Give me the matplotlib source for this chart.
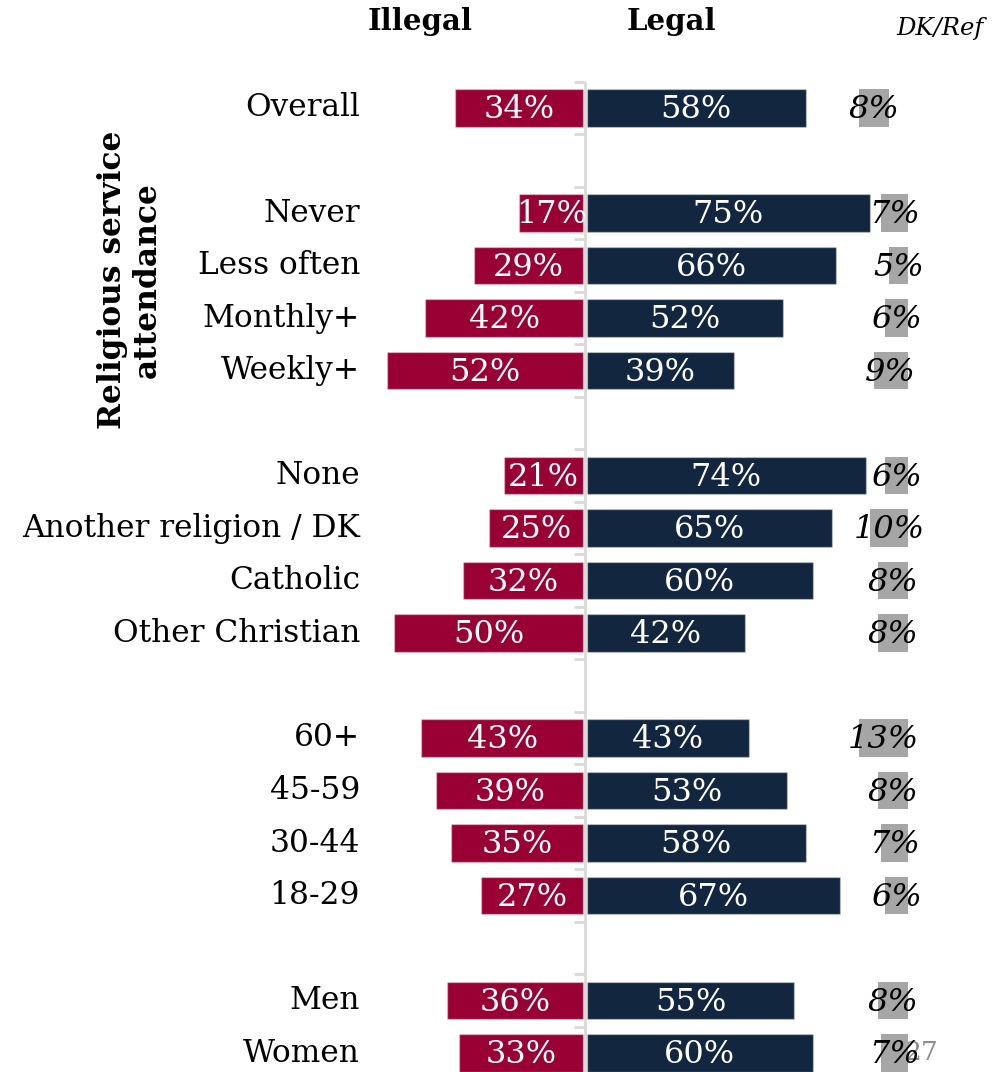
import matplotlib.pyplot as plt
import numpy as np

# rows, top to bottom; None marks an empty spacer slot
categories = ["Overall", None,
              "Never", "Less often", "Monthly+", "Weekly+", None,
              "None", "Another religion / DK", "Catholic", "Other Christian", None,
              "60+", "45-59", "30-44", "18-29", None,
              "Men", "Women"]
illegal = [34, None, 17, 29, 42, 52, None, 21, 25, 32, 50, None, 43, 39, 35, 27, None, 36, 33]
legal = [58, None, 75, 66, 52, 39, None, 74, 65, 60, 42, None, 43, 53, 58, 67, None, 55, 60]
dkref = [8, None, 7, 5, 6, 9, None, 6, 10, 8, 8, None, 13, 8, 7, 6, None, 8, 7]

RED = "#990033"
NAVY = "#12263f"
GREY = "#a6a6a6"
AXIS = "#d9d9d9"
FONT = "DejaVu Serif"

W, H, DPI = 1003, 1072, 100
PX_PER_PCT = 3.78
X0 = 585          # pixel column of the zero line
Y0, PITCH = 108, 52.5

fig = plt.figure(figsize=(W / DPI, H / DPI), dpi=DPI)
ax = fig.add_axes([0, 0, 1, 1])
ax.set_xlim(-X0 / PX_PER_PCT, (W - X0) / PX_PER_PCT)
ax.set_ylim((H - Y0) / PITCH, -Y0 / PITCH)
ax.axis("off")

rows = [i for i, c in enumerate(categories) if c is not None]
ypos = np.array(rows, dtype=float)
ill = np.array([illegal[i] for i in rows], dtype=float)
leg = np.array([legal[i] for i in rows], dtype=float)
dk = np.array([dkref[i] for i in rows], dtype=float)

bh = 0.71
ax.barh(ypos, -ill, height=bh, left=-0.4, color=RED, edgecolor=(1, 1, 1, 0.35), lw=1, zorder=2)
ax.barh(ypos, leg, height=bh, left=0.4, color=NAVY, edgecolor=(1, 1, 1, 0.35), lw=1, zorder=2)

# DK/Ref bars hang off a fixed right edge
dk_right = np.full(len(rows), 85.4)
dk_right[0] = 80.4
ax.barh(ypos, dk, height=bh, left=dk_right - dk, color=GREY, zorder=2)

# zero line with a tick at every slot boundary
n = len(categories)
ax.plot([0, 0], [-0.5, n + 0.5], color=AXIS, lw=2, zorder=3, solid_capstyle="butt")
for b in np.arange(-0.5, n + 0.5, 1.0):
    ax.plot([-2.8, 0], [b, b], color=AXIS, lw=2, zorder=3, solid_capstyle="butt")

vfs = 23
for y, a, l, d, r in zip(ypos, ill, leg, dk, dk_right):
    ax.text(-0.4 - a / 2, y + 0.03, f"{a:.0f}%", color="white", ha="center", va="center",
            fontsize=vfs, family=FONT, zorder=5)
    ax.text(0.4 + l / 2, y + 0.03, f"{l:.0f}%", color="white", ha="center", va="center",
            fontsize=vfs, family=FONT, zorder=5)
    ax.text(r - d / 2, y + 0.03, f"{d:.0f}%", color="black", ha="center", va="center",
            fontsize=vfs, family=FONT, style="italic", zorder=5)

fs = 22.5
for y in rows:
    ax.text(-59.5, y, categories[y], ha="right", va="center", fontsize=fs, family=FONT)

ax.text(-120.5, 3.28, "Religious service\nattendance", rotation=90, ha="center", va="center",
        fontsize=22.5, family=FONT, weight="bold", linespacing=1.15, multialignment="center")

# column headers
ax.text(-43.5, -1.64, "Illegal", ha="center", va="center", fontsize=21, family=FONT, weight="bold")
ax.text(22.8, -1.64, "Legal", ha="center", va="center", fontsize=21, family=FONT, weight="bold")
ax.text(93.8, -1.52, "DK/Ref", ha="center", va="center", fontsize=17.5, family=FONT, style="italic")

# page number
ax.text(88.8, 18.0, "27", ha="center", va="center", fontsize=19, family=FONT, color="#8c8c8c", zorder=1)

fig.savefig("out.png", dpi=DPI)
